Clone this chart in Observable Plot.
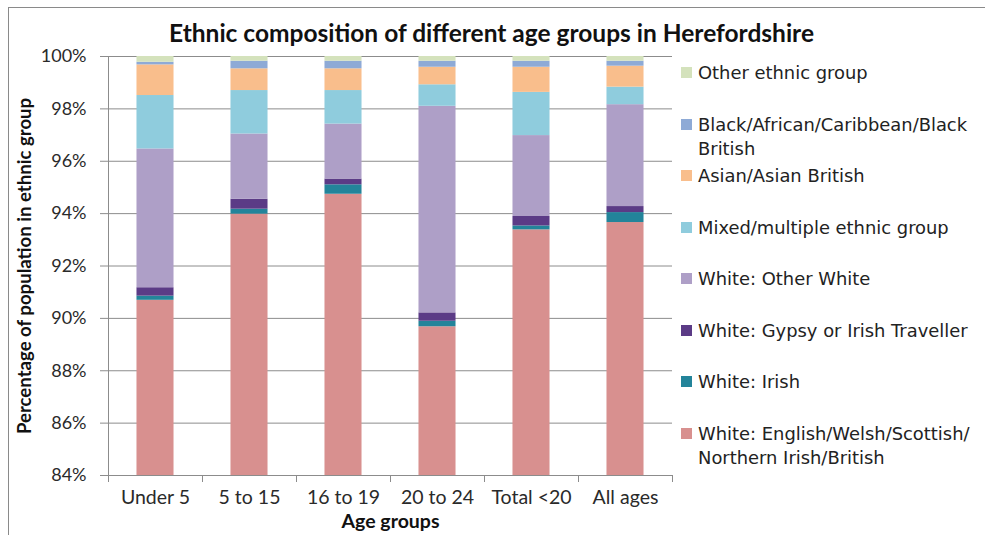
<!DOCTYPE html>
<html>
<head>
<meta charset="utf-8">
<script src="https://cdn.jsdelivr.net/npm/d3@7"></script>
<script src="https://cdn.jsdelivr.net/npm/@observablehq/plot@0.6"></script>
<style>
  body { margin: 0; background: #fff; }
  #wrap { position: relative; width: 985px; height: 535px; overflow: hidden; font-family: Lato, sans-serif; background: #fff; }
  #frame { position: absolute; left: 8px; top: 7px; width: 1100px; height: 700px; border-left: 1.5px solid #8a8a8a; border-top: 1.5px solid #8a8a8a; pointer-events: none; }
  #title { height: 40px; box-sizing: border-box; padding-top: 20px; line-height: 26px; text-align: center; font-weight: bold; font-size: 24.5px; color: #111; width: 983px; white-space: nowrap; }
  #legend { position: absolute; left: 681px; top: 61px; width: 304px; font-family: "DejaVu Sans", sans-serif; font-size: 17.9px; color: #222; }
  #legend .item { height: 51.5px; position: relative; padding-left: 17px; line-height: 24px; box-sizing: border-box; }
  #legend .sw { position: absolute; left: 0; top: 6px; width: 11px; height: 11px; }
  svg g[aria-label="y-axis label"] text, svg g[aria-label="x-axis label"] text { font-weight: bold; fill: #111; }
  svg { overflow: visible; }
</style>
</head>
<body>
<div id="wrap">
  <div id="title">Ethnic composition of different age groups in Herefordshire</div>
  <div id="chart"></div>
  <div id="legend"></div>
  <div id="frame"></div>
</div>
<script>
const ageGroups = ["Under 5", "5 to 15", "16 to 19", "20 to 24", "Total <20", "All ages"];
const ethnicGroups = [
  "White: English/Welsh/Scottish/Northern Irish/British",
  "White: Irish",
  "White: Gypsy or Irish Traveller",
  "White: Other White",
  "Mixed/multiple ethnic group",
  "Asian/Asian British",
  "Black/African/Caribbean/Black British",
  "Other ethnic group"
];
const colors = ["#D8908F", "#23849A", "#5B3B86", "#AE9FC7", "#8FCCDD", "#F9BE8C", "#8EAAD6", "#D4E2BC"];

// percentages per age group (bottom to top of each stack)
const whiteBritish = [90.69, 93.98, 94.74, 89.68, 93.38, 93.66];
const whiteIrish   = [0.16, 0.19, 0.36, 0.21, 0.15, 0.38];
const whiteGypsy   = [0.32, 0.38, 0.22, 0.32, 0.36, 0.23];
const whiteOther   = [5.30, 2.49, 2.10, 7.89, 3.09, 3.89];
const mixed        = [2.04, 1.66, 1.28, 0.82, 1.65, 0.67];
const asian        = [1.17, 0.83, 0.83, 0.67, 0.96, 0.80];
const black        = [0.10, 0.29, 0.29, 0.23, 0.23, 0.19];
const otherEthnic  = [0.22, 0.18, 0.18, 0.18, 0.18, 0.18];
const yTicks = [84, 86, 88, 90, 92, 94, 96, 98, 100];

const seriesValues = [whiteBritish, whiteIrish, whiteGypsy, whiteOther, mixed, asian, black, otherEthnic];
const tidy = ethnicGroups.flatMap((g, i) => ageGroups.map((a, j) => ({age: a, group: g, value: seriesValues[i][j]})));

const W = 985, H = 495, ML = 108, MR = 313;
const step = (W - ML - MR) / ageGroups.length;
const gridColor = "#8c8c8c";

const chart = Plot.plot({
  width: W, height: H,
  marginTop: 16, marginBottom: 60, marginLeft: ML, marginRight: MR,
  style: {fontFamily: "Lato, sans-serif", fontSize: "18px", color: "#2a2a2a", background: "transparent"},
  x: {domain: ageGroups, padding: 0, label: null},
  y: {domain: [84, 100], label: null},
  color: {domain: ethnicGroups, range: colors},
  marks: [
    Plot.ruleY(yTicks.slice(1), {stroke: gridColor}),
    Plot.barY(tidy, Plot.stackY({x: "age", y: "value", fill: "group", insetLeft: step * 0.303, insetRight: step * 0.303, clip: true})),
    Plot.ruleY([84], {stroke: gridColor}),
    Plot.ruleX([ageGroups[0]], {dx: -step / 2, stroke: gridColor}),
    Plot.axisY({ticks: yTicks, tickFormat: d => d + "%", tickSize: 8, tickPadding: 14, stroke: gridColor, label: null}),
    Plot.axisY({ticks: [], label: "Percentage of population in ethnic group", labelAnchor: "center", labelOffset: 91, labelArrow: "none", fontSize: 18.6}),
    Plot.axisX({tickSize: 7, dx: step / 2, tickFormat: () => "", stroke: gridColor, label: null}),
    Plot.axisX({ticks: [ageGroups[0]], tickSize: 7, dx: -step / 2, tickFormat: () => "", stroke: gridColor, label: null}),
    Plot.axisX({tickSize: 0, tickPadding: 15, fontSize: 19.5, label: null}),
    Plot.axisX({ticks: [], label: "Age groups", labelAnchor: "center", labelOffset: 52, labelArrow: "none", fontSize: 19.5, dx: -13})
  ]
});
document.getElementById("chart").appendChild(chart);

const color = chart.scale("color");
const legend = document.getElementById("legend");
for (const g of ethnicGroups.slice().reverse()) {
  const item = document.createElement("div");
  item.className = "item";
  const sw = document.createElement("span");
  sw.className = "sw";
  sw.style.background = color.apply(g);
  item.appendChild(sw);
  const t = document.createElement("span");
  t.textContent = g.replace(/\//g, "/\u200B");
  item.appendChild(t);
  legend.appendChild(item);
}
</script>
</body>
</html>
